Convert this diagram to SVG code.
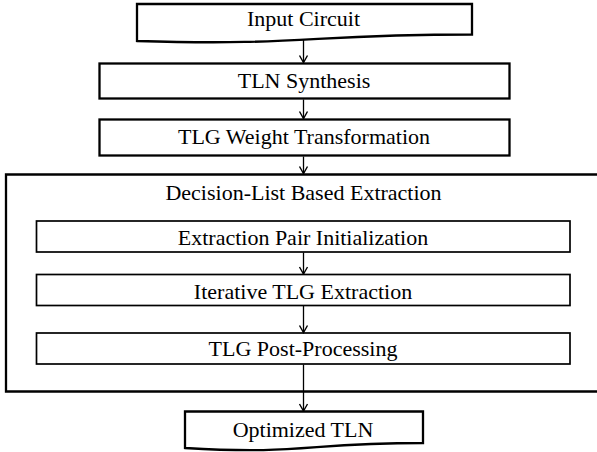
<svg xmlns="http://www.w3.org/2000/svg" width="597" height="452" viewBox="0 0 597 452">
<defs>
<marker id="ah" markerUnits="userSpaceOnUse" markerWidth="12" markerHeight="12" viewBox="0 0 12 12" refX="11" refY="6" orient="auto">
<path d="M4,2 L11,6 L4,10" fill="none" stroke="#000" stroke-width="1.4"/>
</marker>
</defs>
<style>
.b{fill:#fff;stroke:#000;stroke-width:2.3}
.i{fill:#fff;stroke:#000;stroke-width:1.7}
.c{fill:none;stroke:#000;stroke-width:1.3;marker-end:url(#ah)}
.t{font-family:"Liberation Serif","Times New Roman",serif;font-size:22px;fill:#000;text-anchor:middle}
</style>
<rect width="597" height="452" fill="#fff"/>
<g id="extraction">
<path class="b" d="M600,174.5 H6 V391.5 H600"/>
<text class="t" x="303.5" y="200">Decision-List Based Extraction</text>
</g>
<g id="input">
<path class="b" d="M137,4 H472 V34.5 C304.5,34.5 304.5,46 137,41 Z"/>
<text class="t" x="303.5" y="26">Input Circuit</text>
</g>
<g id="synth">
<rect class="b" x="99.5" y="63.5" width="410" height="35"/>
<text class="t" x="304" y="88">TLN Synthesis</text>
</g>
<g id="weight">
<rect class="b" x="99.5" y="119.5" width="410" height="36"/>
<text class="t" x="304" y="144">TLG Weight Transformation</text>
</g>
<g id="init">
<rect class="i" x="36.5" y="221" width="533.5" height="31"/>
<text class="t" x="303" y="245">Extraction Pair Initialization</text>
</g>
<g id="iter">
<rect class="i" x="36.5" y="274.5" width="533.5" height="31"/>
<text class="t" x="303" y="298.5">Iterative TLG Extraction</text>
</g>
<g id="post">
<rect class="i" x="36.5" y="333" width="533.5" height="31"/>
<text class="t" x="303" y="356">TLG Post-Processing</text>
</g>
<g id="output">
<path class="b" d="M185,411.5 H423 V443 C304,443 304,455 185,448 Z"/>
<text class="t" x="303" y="437">Optimized TLN</text>
</g>
<g id="connectors">
<path class="c" d="M303.5,40 V62.5"/>
<path class="c" d="M303.5,99.5 V118.5"/>
<path class="c" d="M303.5,156.5 V173.5"/>
<path class="c" d="M303.5,252.5 V274"/>
<path class="c" d="M303.5,306 V332.5"/>
<path class="c" d="M303.5,364.5 V411"/>
</g>
</svg>
